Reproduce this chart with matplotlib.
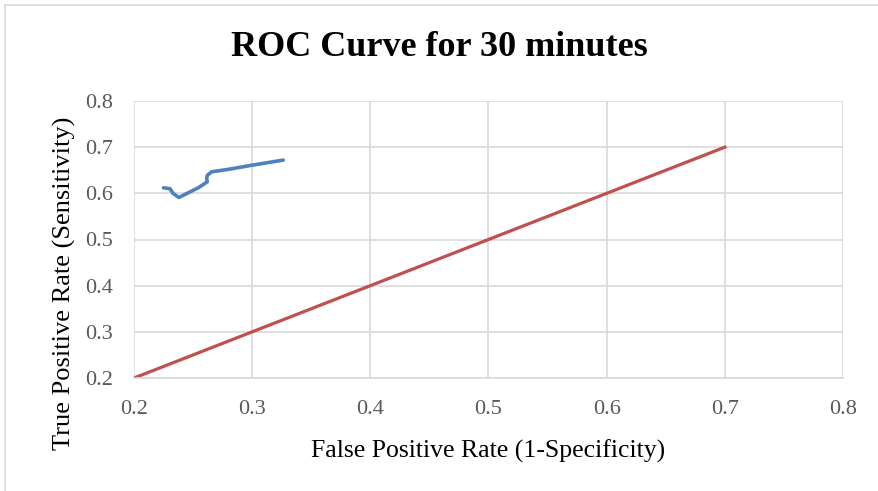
#!/usr/bin/env python3
"""ROC curve for 30 minutes, Excel-style chart."""

import matplotlib
matplotlib.use("Agg")
import matplotlib.pyplot as plt
from matplotlib.patches import Rectangle

# ROC curve
fpr = [0.225, 0.2305, 0.233, 0.238, 0.245, 0.255, 0.262, 0.2615, 0.262, 0.2657, 0.28, 0.30, 0.3263]
tpr = [0.612, 0.610, 0.600, 0.591, 0.600, 0.613, 0.625, 0.632, 0.639, 0.6466, 0.652, 0.661, 0.672]

# reference diagonal
ref_x = [0.2, 0.7]
ref_y = [0.2, 0.7]

ticks = [0.2, 0.3, 0.4, 0.5, 0.6, 0.7, 0.8]

plt.rcParams["font.family"] = ["Liberation Serif", "DejaVu Serif"]

fig = plt.figure(figsize=(8.79, 4.91), dpi=100)
fig.patches.append(Rectangle((5 / 879, -0.1), 1.2, 1 - 5 / 491 + 0.1,
                             transform=fig.transFigure, fill=False,
                             edgecolor="#D9D9D9", linewidth=1.2))
ax = fig.add_axes([134 / 879, 1 - 378 / 491, (843 - 134) / 879, (378 - 101) / 491])

ax.plot(fpr, tpr, color="#4F81BD", linewidth=2.6, solid_joinstyle="round",
        solid_capstyle="round")
ax.plot(ref_x, ref_y, color="#C0504D", linewidth=2.3)

ax.set_xlim(0.2, 0.8)
ax.set_ylim(0.2, 0.8)
ax.set_xticks(ticks)
ax.set_yticks(ticks)
ax.set_xticklabels([f"{t:.1f}" for t in ticks])
ax.set_yticklabels([f"{t:.1f}" for t in ticks])
ax.grid(True, color="#D9D9D9", linewidth=1.2)
ax.set_axisbelow(True)
for s in ax.spines.values():
    s.set_visible(False)
ax.spines["bottom"].set_visible(True)
ax.spines["bottom"].set_color("#D9D9D9")
ax.spines["bottom"].set_linewidth(1.2)
ax.tick_params(length=0, labelsize=16, labelcolor="#595959")
ax.tick_params(axis="x", pad=16)
ax.tick_params(axis="y", pad=15)

ax.set_xlabel("False Positive Rate (1-Specificity)", fontsize=18.5, labelpad=15)
ax.set_ylabel("True Positive Rate (Sensitivity)", fontsize=19, labelpad=5)
ax.yaxis.set_label_coords(-0.082, (378 - 283) / 277)
fig.text(0.5, 1 - 48 / 491, "ROC Curve for 30 minutes", ha="center", va="center",
         fontsize=26, fontweight="bold")

fig.savefig("out.png", dpi=100)
